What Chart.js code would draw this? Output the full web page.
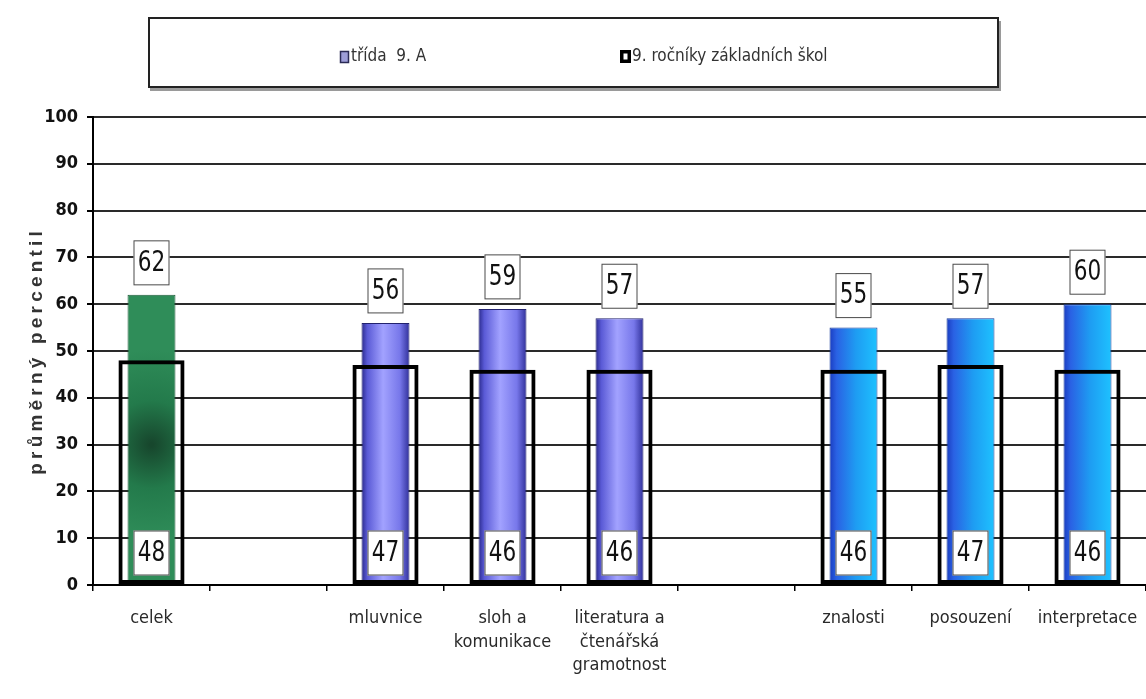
<!DOCTYPE html>
<html>
<head>
<meta charset="utf-8">
<script src="https://cdn.jsdelivr.net/npm/chart.js@4.4.0/dist/chart.umd.min.js"></script>
<style>
  html, body { margin: 0; padding: 0; background: #fff; }
  canvas { display: block; }
</style>
</head>
<body>
<canvas id="chart" width="1146" height="699"></canvas>
<script>
// ---- data ----
const categories = ['celek', '', 'mluvnice', ['sloh a', 'komunikace'], ['literatura a', 'čtenářská', 'gramotnost'], '', 'znalosti', 'posouzení', 'interpretace'];
const classValues = [62, null, 56, 59, 57, null, 55, 57, 60];
const schoolValues = [48, null, 47, 46, 46, null, 46, 47, 46];
const barGroups = ['green', null, 'purple', 'purple', 'purple', null, 'blue', 'blue', 'blue'];
const seriesNames = ['třída  9. A', '9. ročníky základních škol'];
const yTitle = 'průměrný percentil';
const yMin = 0, yMax = 100, yStep = 10;

const NARROW = '"Liberation Sans Narrow", "DejaVu Sans Condensed", "Arial Narrow", sans-serif';
const CLASS_BAR = 0.41;
const SCHOOL_BAR = 0.565;

// gradient fill for the class bars, by group
function classFill(context) {
    const chart = context.chart;
    const i = context.dataIndex;
    if (!chart.chartArea || i == null) return '#8080e0';
    const c = chart.ctx;
    const xs = chart.scales.x;
    const cx = xs.getPixelForValue(i);
    const half = xs.width / categories.length * CLASS_BAR / 2;
    const group = barGroups[i];

    if (group === 'green') {
        const yc = chart.scales.y.getPixelForValue(30);
        const g = c.createRadialGradient(cx, yc, 2, cx, yc, 95);
        g.addColorStop(0, '#17472d');
        g.addColorStop(0.45, '#237a4b');
        g.addColorStop(1, '#2f8d59');
        return g;
    }
    const g = c.createLinearGradient(cx - half, 0, cx + half, 0);
    if (group === 'purple') {
        g.addColorStop(0, '#2a2a8c');
        g.addColorStop(0.12, '#5a5ad6');
        g.addColorStop(0.45, '#a2a2ff');
        g.addColorStop(0.8, '#7777ea');
        g.addColorStop(1, '#30309a');
    } else {
        g.addColorStop(0, '#1a3cc0');
        g.addColorStop(0.15, '#2a62e4');
        g.addColorStop(0.55, '#1e9cf2');
        g.addColorStop(1, '#1ec2ff');
    }
    return g;
}

function classBorder(context) {
    const group = barGroups[context.dataIndex];
    if (group === 'green') return '#1d5a38';
    if (group === 'purple') return '#22226e';
    return '#163c9a';
}

// white boxes with the values
function drawValueBox(c, cx, cy, value) {
    c.save();
    c.fillStyle = '#ffffff';
    c.fillRect(cx - 18, cy - 22, 36, 45);
    c.strokeStyle = '#4a4a4a';
    c.lineWidth = 1;
    c.strokeRect(cx - 17.5, cy - 21.5, 35, 44);
    c.fillStyle = '#111';
    c.font = '24px ' + NARROW;
    c.textAlign = 'center';
    c.textBaseline = 'middle';
    c.translate(cx, cy + 1);
    c.scale(1, 1.15);
    c.fillText(String(value), 0, 0);
    c.restore();
}

const valueBoxes = {
    id: 'valueBoxes',
    afterDatasetsDraw(chart) {
        const c = chart.ctx;
        const xs = chart.scales.x, ys = chart.scales.y;
        const base = ys.getPixelForValue(0);
        classValues.forEach((v, i) => {
            if (v == null) return;
            const px = xs.getPixelForValue(i);
            drawValueBox(c, px, ys.getPixelForValue(v) - 32.5, v);
            drawValueBox(c, px, base - 32.5, schoolValues[i]);
        });
    }
};

// boxed legend at the top + spaced y title
const frame = {
    id: 'frame',
    afterDraw(chart) {
        const c = chart.ctx;
        c.save();
        // legend box
        c.fillStyle = '#9a9a9a';
        c.fillRect(150, 21, 851, 70);
        c.fillStyle = '#fff';
        c.fillRect(148, 17, 851, 71);
        c.strokeStyle = '#222';
        c.lineWidth = 2;
        c.strokeRect(149, 18, 849, 69);

        // marker 1
        c.fillStyle = '#9d9dd8';
        c.fillRect(340, 51, 9, 12);
        c.strokeStyle = '#2a2a55';
        c.lineWidth = 1.5;
        c.strokeRect(340.5, 51.5, 8, 11);
        // marker 2
        c.fillStyle = '#000';
        c.fillRect(620, 50, 11, 13);
        c.fillStyle = '#fff';
        c.fillRect(623.5, 53.5, 4, 6);

        c.fillStyle = '#333';
        c.font = '17px ' + NARROW;
        c.textBaseline = 'middle';
        c.textAlign = 'left';
        c.fillText(seriesNames[0], 351, 57);
        c.fillText(seriesNames[1], 632, 57);

        // y axis title, letter spaced
        c.translate(37, 353);
        c.rotate(-Math.PI / 2);
        c.font = 'bold 19px "Liberation Sans", Arial, sans-serif';
        c.fillStyle = '#333';
        const spacing = 4.2;
        let total = 0;
        const widths = [...yTitle].map(ch => c.measureText(ch).width);
        widths.forEach(w => total += w + spacing);
        total -= spacing;
        let x = -total / 2;
        [...yTitle].forEach((ch, k) => {
            c.fillText(ch, x, 0);
            x += widths[k] + spacing;
        });
        c.restore();
    }
};

new Chart(document.getElementById('chart'), {
    type: 'bar',
    data: {
        labels: categories,
        datasets: [
            {
                label: seriesNames[1],
                data: schoolValues,
                grouped: false,
                order: 0,
                backgroundColor: 'rgba(0,0,0,0)',
                borderColor: '#000',
                borderWidth: 4,
                borderSkipped: false,
                barPercentage: SCHOOL_BAR,
                categoryPercentage: 1
            },
            {
                label: seriesNames[0],
                data: classValues,
                grouped: false,
                order: 1,
                backgroundColor: classFill,
                borderColor: classBorder,
                borderWidth: 1,
                borderSkipped: false,
                barPercentage: CLASS_BAR,
                categoryPercentage: 1
            }
        ]
    },
    options: {
        responsive: false,
        animation: false,
        layout: {
            padding: { top: 117, left: 0, right: 0, bottom: 0 }
        },
        plugins: {
            legend: { display: false },
            tooltip: { enabled: false }
        },
        scales: {
            x: {
                afterFit: s => {
                    s.height = 114;
                    s.paddingLeft = 0;
                    s.paddingRight = 0;
                },
                grid: {
                    drawOnChartArea: false,
                    drawTicks: true,
                    tickLength: 6,
                    color: '#000',
                    lineWidth: 1.5
                },
                border: { display: true, color: '#000', width: 2 },
                ticks: {
                    padding: 16,
                    maxRotation: 0,
                    autoSkip: false,
                    color: '#2a2a2a',
                    font: { family: NARROW, size: 18, lineHeight: 1.3 }
                }
            },
            y: {
                min: yMin,
                max: yMax,
                afterFit: s => { s.width = 93; },
                grid: {
                    color: '#2a2a2a',
                    lineWidth: 2,
                    tickLength: 6,
                    tickColor: '#000'
                },
                border: { display: true, color: '#000', width: 2 },
                ticks: {
                    stepSize: yStep,
                    padding: 9,
                    color: '#111',
                    font: { family: NARROW, size: 18, weight: 'bold' }
                }
            }
        }
    },
    plugins: [valueBoxes, frame]
});
</script>
</body>
</html>
